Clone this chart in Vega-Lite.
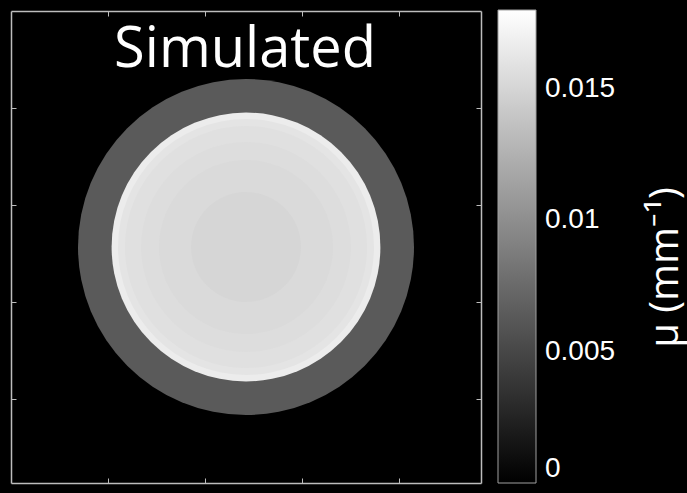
{
  "$schema": "https://vega.github.io/schema/vega-lite/v6.json",
  "autosize": {"type": "none"},
  "padding": 0,
  "width": 687,
  "height": 493,
  "background": "black",
  "config": {
    "background": "black",
    "view": {"stroke": null, "fill": "black"},
    "axis": {
      "labels": false,
      "grid": false,
      "domainColor": "#bdbdbd",
      "domainWidth": 1.5,
      "tickColor": "#bdbdbd",
      "tickWidth": 1,
      "tickSize": -5
    }
  },
  "data": {
    "values": [
      {"cx": 121, "cy": 121.5, "r": 86.5, "mu": 0.00635},
      {"cx": 121, "cy": 121.5, "r": 69.2, "mu": 0.01666},
      {"cx": 121, "cy": 121.5, "r": 65.9, "mu": 0.0161},
      {"cx": 121, "cy": 121.5, "r": 62.3, "mu": 0.0158},
      {"cx": 121, "cy": 121.5, "r": 54.1, "mu": 0.0156},
      {"cx": 121, "cy": 121.5, "r": 44.8, "mu": 0.01539},
      {"cx": 121, "cy": 121.5, "r": 28.3, "mu": 0.0151}
    ]
  },
  "layer": [
    {
      "mark": {"type": "arc"},
      "encoding": {
        "x": {"field": "cx", "type": "quantitative", "scale": {"domain": [0, 242], "range": [11, 481], "nice": false, "zero": false}, "axis": {"orient": "bottom", "offset": -10, "title": null, "values": [50, 100, 150, 200]}},
        "y": {"field": "cy", "type": "quantitative", "scale": {"domain": [0, 243], "range": [11, 483], "nice": false, "zero": false}, "axis": {"orient": "left", "offset": -11, "title": null, "values": [50, 100, 150, 200]}},
        "radius": {"field": "r", "type": "quantitative", "stack": null, "scale": {"type": "linear", "domain": [0, 121], "range": [0, 235], "zero": true}, "legend": null},
        "color": {
          "field": "mu",
          "type": "quantitative",
          "scale": {"domain": [0, 0.018], "range": ["#000000", "#ffffff"], "interpolate": "rgb"},
          "legend": {
            "orient": "none",
            "legendX": 498,
            "legendY": 10,
            "direction": "vertical",
            "gradientLength": 473,
            "gradientThickness": 38,
            "gradientStrokeColor": "#a0a0a0",
            "gradientStrokeWidth": 1,
            "values": [0, 0.005, 0.01, 0.015],
            "format": "~g",
            "labelColor": "#ffffff",
            "labelFont": "Liberation Sans",
            "labelFontSize": 28,
            "labelOffset": 9,
            "labelBaseline": "middle",
            "title": null
          }
        }
      }
    },
    {
      "mark": {"type": "point", "opacity": 0},
      "encoding": {
        "x": {"field": "cx", "type": "quantitative", "axis": {"orient": "top", "offset": -11, "title": null, "values": [50, 100, 150, 200]}},
        "y": {"field": "cy", "type": "quantitative", "axis": {
          "orient": "right",
          "offset": -206,
          "values": [50, 100, 150, 200],
          "title": "μ (mm⁻¹)",
          "titleAngle": 270,
          "titleX": 184,
          "titleY": 267,
          "titleAlign": "center",
          "titleBaseline": "middle",
          "titleColor": "#ffffff",
          "titleFont": "Open Sans",
          "titleFontSize": 40,
          "titleFontWeight": "normal"
        }}
      }
    },
    {
      "data": {"values": [{"label": "Simulated"}]},
      "mark": {"type": "text", "align": "center", "baseline": "alphabetic", "font": "Open Sans", "fontSize": 56, "color": "#ffffff"},
      "encoding": {
        "x": {"datum": 120.5, "type": "quantitative", "axis": null},
        "y": {"datum": 28.8, "type": "quantitative", "axis": null},
        "text": {"field": "label", "type": "nominal"}
      }
    }
  ],
  "resolve": {"axis": {"x": "independent", "y": "independent"}}
}
